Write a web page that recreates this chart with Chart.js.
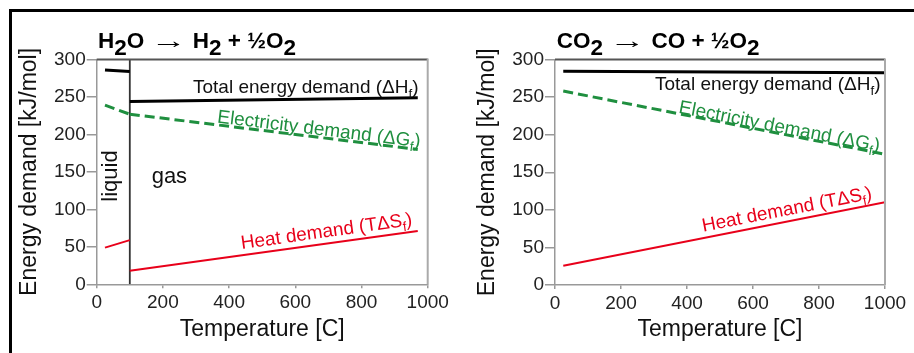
<!DOCTYPE html>
<html><head><meta charset="utf-8">
<script src="https://cdn.jsdelivr.net/npm/chart.js@4.4.0/dist/chart.umd.min.js"></script>
<style>
html,body{margin:0;padding:0;background:#fff;}
body{width:914px;height:353px;position:relative;overflow:hidden;}
.wrap{position:absolute;top:0;height:353px;}
.frameTop{position:absolute;left:9px;top:9px;width:905px;height:3px;background:#000;}
.frameLeft{position:absolute;left:9px;top:9px;width:3px;height:344px;background:#000;}
</style></head><body>
<div class="wrap" style="left:0;width:460px"><canvas id="c1" width="460" height="353"></canvas></div>
<div class="wrap" style="left:460px;width:454px"><canvas id="c2" width="454" height="353"></canvas></div>
<div class="frameTop"></div><div class="frameLeft"></div>
<script>
// ---- data ----
const tempTicks = [0, 200, 400, 600, 800, 1000];
const energyTicks = [0, 50, 100, 150, 200, 250, 300];

// H2O -> H2 + 1/2 O2 : liquid water (25-100 C) and steam (100-970 C)
const h2oLiquidTemp  = [25, 100];
const h2oLiquidTotal = [286, 284];
const h2oLiquidElec  = [239, 227];
const h2oLiquidHeat  = [49, 59];
const h2oGasTemp  = [100, 970];
const h2oGasTotal = [244, 249];
const h2oGasElec  = [227, 180];
const h2oGasHeat  = [18, 71];
const phaseBoundaryTemp   = [100, 100];
const phaseBoundaryEnergy = [0, 300];

// CO2 -> CO + 1/2 O2
const co2Temp  = [25, 1000];
const co2Total = [284.5, 282.5];
const co2Elec  = [258, 174];
const co2Heat  = [25.5, 110];

const FF = '"Liberation Sans", Arial, Helvetica, sans-serif';
const C_TOTAL = '#000000', C_ELEC = '#1f8f3f', C_HEAT = '#e8001a';

function pts(xs, ys){ return xs.map((x,i)=>({x:x, y:ys[i]})); }
function ds(xs, ys, color, width, dash){
  return {data: pts(xs, ys), borderColor: color, borderWidth: width, borderDash: dash || [],
          pointRadius: 0, tension: 0, fill: false};
}

// parts: [text, isSub, xScale]
function drawRich(ctx, parts, size, bold, subRatio, subOff){
  const widths = parts.map(([t,sub,sx])=>{
    ctx.font = (bold?'bold ':'') + (sub? size*subRatio : size) + 'px ' + FF;
    return ctx.measureText(t).width * (sx || 1);
  });
  let w = 0; widths.forEach(v=>w+=v);
  return {width:w, draw:(x0,y0)=>{
    let x = x0;
    parts.forEach(([t,sub,sx],i)=>{
      ctx.font = (bold?'bold ':'') + (sub? size*subRatio : size) + 'px ' + FF;
      ctx.save();
      ctx.translate(x, y0 + (sub? subOff : 0));
      ctx.scale(sx || 1, 1);
      ctx.fillText(t, 0, 0);
      ctx.restore();
      x += widths[i];
    });
  }};
}

const annotPlugin = {
  id: 'annot',
  afterDatasetsDraw(chart, args, opts){
    const ctx = chart.ctx, xs = chart.scales.x, ys = chart.scales.y, ca = chart.chartArea;
    ctx.save();
    // plot box: top and right edges
    ctx.strokeStyle = '#555'; ctx.lineWidth = 2;
    ctx.beginPath(); ctx.moveTo(ca.left, ca.top); ctx.lineTo(ca.right, ca.top); ctx.stroke();
    ctx.strokeStyle = '#aaa';
    ctx.beginPath(); ctx.moveTo(ca.right, ca.top-1); ctx.lineTo(ca.right, ca.bottom); ctx.stroke();
    ctx.textBaseline = 'alphabetic';
    (opts.items || []).forEach(it=>{
      const px = xs.getPixelForValue(it.x), py = ys.getPixelForValue(it.y);
      ctx.save();
      ctx.translate(px, py);
      ctx.rotate((it.angle||0)*Math.PI/180);
      ctx.fillStyle = it.color;
      ctx.textAlign = 'left';
      const r = drawRich(ctx, it.parts, it.size, false, 0.7, it.size*0.25);
      r.draw(it.align === 'center' ? -r.width/2 : 0, 0);
      ctx.restore();
    });
    // title
    if (opts.title){
      ctx.fillStyle = '#000'; ctx.textAlign = 'left';
      const r = drawRich(ctx, opts.title.parts, 22.5, true, 1.0, 6.7);
      r.draw(opts.title.x, opts.title.y);
    }
    ctx.restore();
  }
};

function makeChart(id, datasets, cfg){
  return new Chart(document.getElementById(id), {
    type: 'line',
    data: {datasets: datasets},
    plugins: [annotPlugin],
    options: {
      responsive: false, animation: false, devicePixelRatio: 1,
      layout: {padding: {left: 0, top: cfg.top, right: cfg.right, bottom: 0}},
      plugins: {legend: {display: false}, tooltip: {enabled: false}, annot: cfg.annot},
      scales: {
        x: {
          type: 'linear', min: 0, max: 1000,
          afterBuildTicks: s => { s.ticks = tempTicks.map(v => ({value: v})); },
          afterFit: s => { s.height = cfg.xh; },
          grid: {display: true, drawOnChartArea: false, drawTicks: true, tickLength: 4, color: '#999', lineWidth: 1.5},
          border: {display: true, color: '#999', width: 1.5},
          ticks: {color: '#222', font: {family: FF, size: 19}, padding: 3.5, maxRotation: 0, autoSkip: false,
                  callback: v => String(v)},
          title: {display: true, text: 'Temperature [C]', color: '#111', font: {family: FF, size: 23}, padding: {top: 0, bottom: 10}}
        },
        y: {
          type: 'linear', min: 0, max: 300,
          afterBuildTicks: s => { s.ticks = energyTicks.map(v => ({value: v})); },
          afterFit: s => { s.width = cfg.yw; },
          grid: {display: true, drawOnChartArea: false, drawTicks: true, tickLength: 10, color: '#999', lineWidth: 1.5},
          border: {display: true, color: '#999', width: 1.5},
          ticks: {color: '#222', font: {family: FF, size: 19}, padding: 1, callback: v => String(v)},
          title: {display: true, text: 'Energy demand [kJ/mol]', color: '#111', font: {family: FF, size: 23}, padding: {top: cfg.ytp, bottom: 0}}
        }
      }
    }
  });
}

const totalLabel = [['Total energy demand (\u0394H',0],['f',1],[')',0]];
const elecLabel  = [['Electricity demand (\u0394G',0],['f',1],[')',0]];
const heatLabel  = [['Heat demand (T\u0394S',0],['f',1],[')',0]];

makeChart('c1', [
  ds(h2oLiquidTemp, h2oLiquidTotal, C_TOTAL, 3),
  ds(h2oGasTemp, h2oGasTotal, C_TOTAL, 3),
  ds(h2oLiquidTemp, h2oLiquidElec, C_ELEC, 3, [10,5]),
  ds(h2oGasTemp, h2oGasElec, C_ELEC, 3, [10,5]),
  ds(h2oLiquidTemp, h2oLiquidHeat, C_HEAT, 2),
  ds(h2oGasTemp, h2oGasHeat, C_HEAT, 2),
  ds(phaseBoundaryTemp, phaseBoundaryEnergy, '#333', 1.8)
], {top: 59.5, right: 32.3, xh: 68.7, yw: 96.7, ytp: 16,
  annot: {
    title: {x: 98, y: 48.3, parts: [['H',0],['2',1],['O ',0],['\u2192',0,1.6],[' H',0],['2',1],[' + \u00bdO',0],['2',1]]},
    items: [
      {x: 291, y: 255.3, angle: 0, color: '#111', size: 19, parts: totalLabel},
      {x: 363, y: 216, angle: 7, color: C_ELEC, size: 19, parts: elecLabel},
      {x: 438, y: 47, angle: -8, color: C_HEAT, size: 19, parts: heatLabel},
      {x: 61, y: 144.5, angle: -90, color: '#111', size: 22, align: 'center', parts: [['liquid',0]]},
      {x: 166, y: 135, angle: 0, color: '#111', size: 22, parts: [['gas',0]]}
    ]
  }
});

makeChart('c2', [
  ds(co2Temp, co2Total, C_TOTAL, 3),
  ds(co2Temp, co2Elec, C_ELEC, 3, [10,5]),
  ds(co2Temp, co2Heat, C_HEAT, 2)
], {top: 59.5, right: 29, xh: 68, yw: 95, ytp: 14,
  annot: {
    title: {x: 96.7, y: 48.3, parts: [['CO',0],['2',1],[' ',0],['\u2192',0,1.6],[' CO + \u00bdO',0],['2',1]]},
    items: [
      {x: 303, y: 259.4, angle: 0, color: '#111', size: 19, parts: totalLabel},
      {x: 373, y: 229, angle: 11, color: C_ELEC, size: 19, parts: elecLabel},
      {x: 449, y: 71, angle: -11, color: C_HEAT, size: 19, parts: heatLabel}
    ]
  }
});
</script>
</body></html>
